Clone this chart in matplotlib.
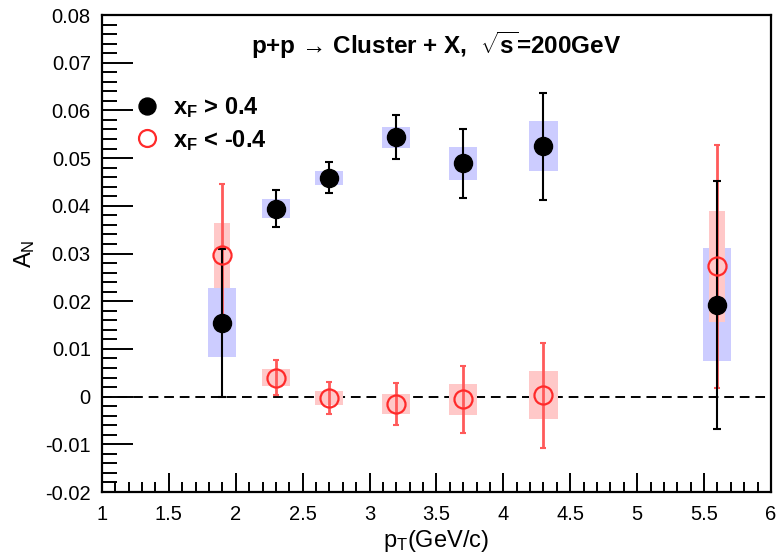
import matplotlib
matplotlib.use("Agg")
import matplotlib.pyplot as plt
from matplotlib.ticker import MultipleLocator, FuncFormatter
from matplotlib.lines import Line2D

plt.rcParams['font.family'] = ['Liberation Sans', 'DejaVu Sans']
plt.rcParams['mathtext.fontset'] = 'custom'
plt.rcParams['mathtext.rm'] = 'Liberation Sans'
plt.rcParams['mathtext.it'] = 'Liberation Sans'
plt.rcParams['mathtext.bf'] = 'Liberation Sans:bold'
plt.rcParams['axes.unicode_minus'] = False

# pT bins
pt = [1.9, 2.3, 2.7, 3.2, 3.7, 4.3, 5.6]

# x_F > 0.4
an_fwd = [0.0155, 0.0394, 0.0459, 0.0544, 0.0489, 0.0525, 0.0193]
stat_fwd = [0.0155, 0.0039, 0.0033, 0.0046, 0.0072, 0.0112, 0.0260]
sys_fwd = [0.0073, 0.0020, 0.0015, 0.0022, 0.0034, 0.0052, 0.0119]

# x_F < -0.4
an_bwd = [0.0296, 0.0040, -0.0003, -0.0015, -0.0006, 0.0003, 0.0273]
stat_bwd = [0.0150, 0.0036, 0.0034, 0.0044, 0.0070, 0.0110, 0.0254]
sys_bwd = [0.0068, 0.0017, 0.0015, 0.0021, 0.0032, 0.0050, 0.0116]

fig = plt.figure(figsize=(7.76, 5.54), dpi=100)
ax = fig.add_axes([0.1314, 0.1119, 0.8621, 0.861])

ax.set_xlim(1, 6)
ax.set_ylim(-0.02, 0.08)

# zero reference line
ax.axhline(0, color='black', lw=1.4, ls=(0, (5, 3)), zorder=1)

# systematic boxes; the backward box is narrowed where it shares a bin with a wide forward box
box_w = 0.21
ax.bar(pt, [2 * s for s in sys_fwd], width=box_w,
       bottom=[a - s for a, s in zip(an_fwd, sys_fwd)],
       color='#ccccff', edgecolor='none', zorder=2)
bwd_w = [0.12 if s > 0.005 and abs(a - b) < 0.03 and w > 0.006 else box_w
         for s, a, b, w in zip(sys_fwd, an_fwd, an_bwd, sys_bwd)]
ax.bar(pt, [2 * s for s in sys_bwd], width=bwd_w,
       bottom=[a - s for a, s in zip(an_bwd, sys_bwd)],
       color='#ffc8c8', edgecolor='none', zorder=3)

# statistical errors
ax.errorbar(pt, an_bwd, yerr=stat_bwd, fmt='none', ecolor='#ff5a5a',
            elinewidth=2.0, capsize=2.5, capthick=1.5, zorder=4)
ax.errorbar(pt, an_fwd, yerr=stat_fwd, fmt='none', ecolor='black',
            elinewidth=1.5, capsize=3.0, capthick=1.5, zorder=5)

# markers
ax.plot(pt, an_bwd, 'o', ms=13, mfc='none', mec='#ff2a2a', mew=1.6, zorder=6)
ax.plot(pt, an_fwd, 'o', ms=13, mfc='black', mec='black', zorder=7)

# axes styling
for side in ['top', 'right', 'bottom', 'left']:
    ax.spines[side].set_linewidth(1.6)
ax.xaxis.set_major_locator(MultipleLocator(0.5))
ax.xaxis.set_minor_locator(MultipleLocator(0.1))
ax.yaxis.set_major_locator(MultipleLocator(0.01))
ax.yaxis.set_minor_locator(MultipleLocator(0.002))
fmt = FuncFormatter(lambda v, p: f"{round(v, 4):g}")
ax.xaxis.set_major_formatter(fmt)
ax.yaxis.set_major_formatter(fmt)
ax.tick_params(axis='both', which='both', direction='in', top=False, right=False,
               width=1.4, labelsize=14.5)
ax.tick_params(axis='x', which='major', length=14, pad=9)
ax.tick_params(axis='x', which='minor', length=7)
ax.tick_params(axis='y', which='major', length=22, pad=8)
ax.tick_params(axis='y', which='minor', length=11)

ax.set_xlabel(r"p$_{\mathrm{T}}$(GeV/c)", fontsize=17, labelpad=3)
ax.set_ylabel(r"A$_{\mathrm{N}}$", fontsize=17, labelpad=6)

ax.text(0.5, 0.937, "p+p \u2192 Cluster + X,  $\\mathbf{\\sqrt{s}}$=200GeV",
        transform=ax.transAxes, ha='center', va='center',
        fontsize=17.5, fontweight='bold')

handles = [
    Line2D([], [], marker='o', ls='none', ms=12.2, mfc='black', mec='black'),
    Line2D([], [], marker='o', ls='none', ms=12.2, mfc='none', mec='#ff2a2a', mew=1.6),
]
labels = [r"$\mathbf{x_F}$ > 0.4", r"$\mathbf{x_F}$ < -0.4"]
leg = ax.legend(handles, labels, loc='upper left', bbox_to_anchor=(0.05, 0.832),
                frameon=False, prop={'size': 17, 'weight': 'bold'},
                handletextpad=0.6, labelspacing=0.32, handlelength=1.0,
                borderaxespad=0, borderpad=0)

fig.savefig("out.png", dpi=100)
